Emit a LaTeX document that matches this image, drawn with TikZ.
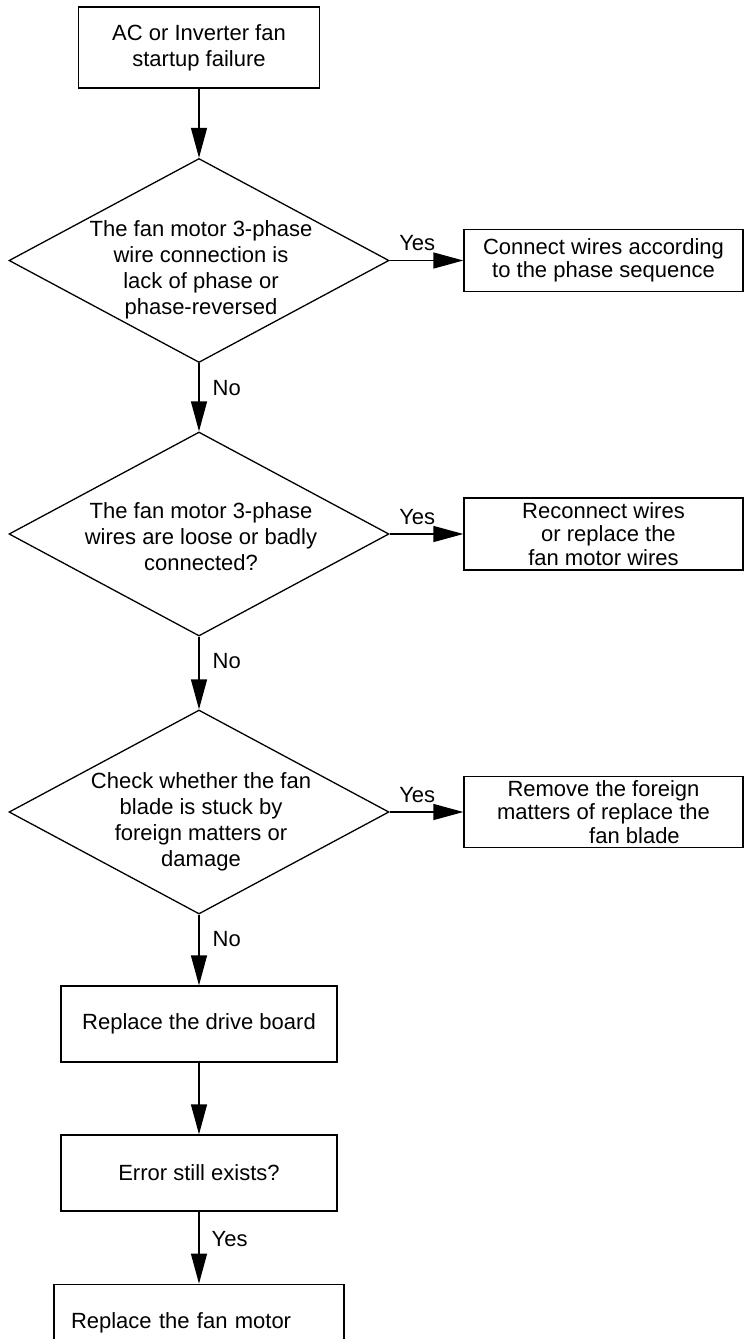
\documentclass[tikz,border=0pt]{standalone}
\usepackage{fontspec}
\setmainfont{Liberation Sans}
\usetikzlibrary{arrows.meta, shapes.geometric}

\tikzset{
  chartbox/.style={draw, line width=1.3pt, inner sep=0pt, align=center, font=\fontsize{22}{26}\selectfont},
  sidebox/.style={chartbox, minimum width=279pt, font=\fontsize{22}{23.5}\selectfont},
  decision/.style={draw, diamond, line width=1.3pt, inner sep=0pt, minimum width=380pt, minimum height=204pt},
  decisiontext/.style={align=center, inner sep=0pt, font=\fontsize{22}{26}\selectfont},
  flowarrow/.style={line width=1.3pt, -{Triangle[length=30pt, width=16pt]}},
  answer/.style={inner sep=0pt, font=\fontsize{22}{26}\selectfont},
}

\begin{document}
\begin{tikzpicture}[x=1pt, y=-1pt]
  \useasboundingbox (0,0) rectangle (744,1339);

  % --- Start ---
  \node[chartbox, minimum width=241pt, minimum height=81pt] (start) at (199,47.5) {AC or Inverter fan\\startup failure};

  % --- Check 1: phase sequence ---
  \node[decision] (dphase) at (199,260.5) {};
  \node[decisiontext] (tphase) at (201,270) {The fan motor 3-phase\\wire connection is\\lack of phase or\\phase-reversed};
  \node[sidebox, minimum height=62pt] (fixphase) at (603.5,260.5) {Connect wires according\\to the phase sequence};

  % --- Check 2: loose wires ---
  \node[decision] (dwire) at (199,534) {};
  \node[decisiontext] (twire) at (201,537) {The fan motor 3-phase\\wires are loose or badly\\connected?};
  \node[sidebox, minimum height=72pt] (fixwire) at (603.5,534) {Reconnect wires\\\hspace*{10pt}or replace the\\fan motor wires};

  % --- Check 3: fan blade ---
  \node[decision] (dblade) at (199,812) {};
  \node[decisiontext] (tblade) at (201,822) {Check whether the fan\\blade is stuck by\\foreign matters or\\damage};
  \node[sidebox, minimum height=71pt] (fixblade) at (603.5,812) {Remove the foreign\\matters of replace the\\\hspace*{62pt}fan blade};

  % --- Bottom boxes ---
  \node[chartbox, minimum width=276pt, minimum height=76pt] (board) at (199,1024) {Replace the drive board};
  \node[chartbox, minimum width=276pt, minimum height=76pt] (error) at (199,1173) {Error still exists?};
  \node[chartbox, align=left, text width=256pt, inner xsep=17pt, minimum height=76pt] (motor) at (199,1322.3) {Replace the fan motor};

  % --- Connectors ---
  \draw[flowarrow] (start) -- (dphase);
  \draw[flowarrow] (dphase.east) -- node[answer, pos=0, anchor=south west, xshift=9pt, yshift=9pt] {Yes} (dphase.east -| fixphase.west);
  \draw[flowarrow] (dphase) -- node[answer, pos=0.37, anchor=west, xshift=13pt] {No} (dwire);
  \draw[flowarrow] (dwire.east) -- node[answer, pos=0, anchor=south west, xshift=9pt, yshift=9pt] {Yes} (dwire.east -| fixwire.west);
  \draw[flowarrow] (dwire) -- node[answer, pos=0.33, anchor=west, xshift=13pt] {No} (dblade);
  \draw[flowarrow] (dblade.east) -- node[answer, pos=0, anchor=south west, xshift=9pt, yshift=9pt] {Yes} (dblade.east -| fixblade.west);
  \draw[flowarrow] (dblade) -- node[answer, pos=0.35, anchor=west, xshift=13pt] {No} (board);
  \draw[flowarrow] (board) -- (error);
  \draw[flowarrow] (error) -- node[answer, pos=0.375, anchor=west, xshift=12pt] {Yes} (motor);
\end{tikzpicture}
\end{document}
